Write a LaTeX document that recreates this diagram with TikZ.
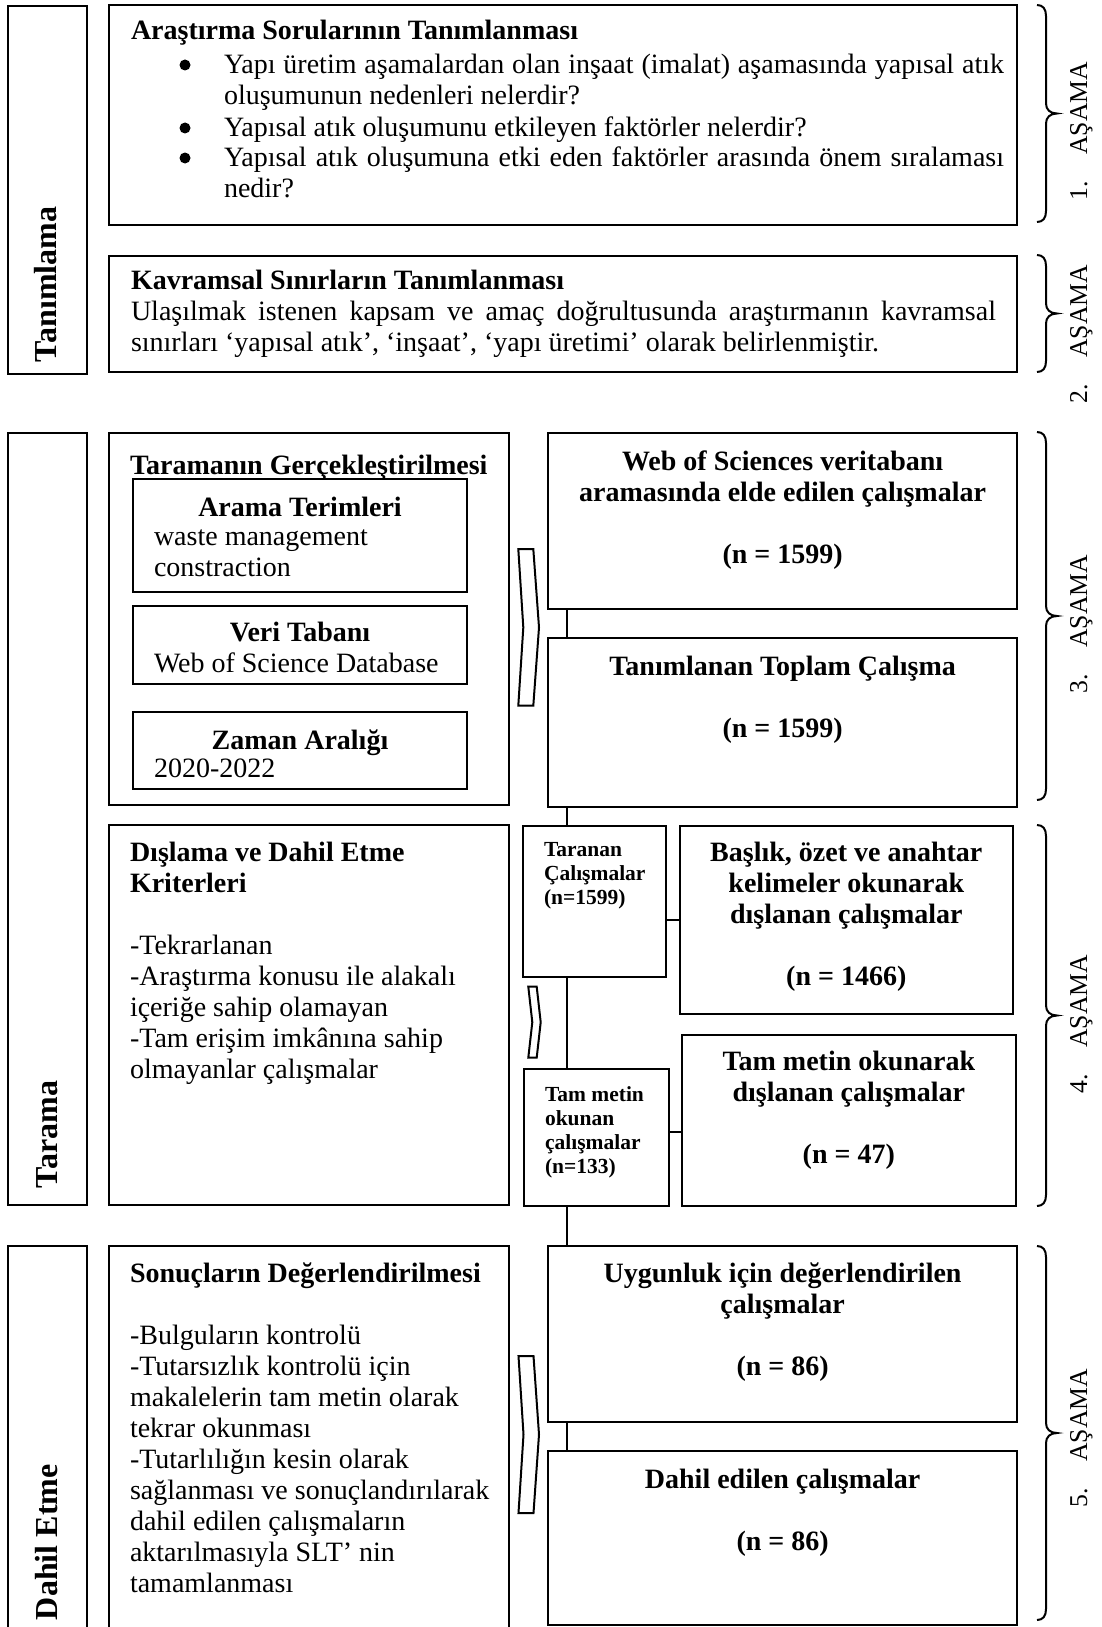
\documentclass[tikz,border=0pt]{standalone}
\usepackage{fontspec}
\setmainfont{Liberation Serif}
\newcommand\fA{\fontsize{28}{31}\selectfont}
\newcommand\fS{\fontsize{21.5}{24.3}\selectfont}
\newcommand\fL{\fontsize{32}{36}\selectfont}
\newcommand\fR{\fontsize{25.7}{30}\selectfont}
\newcommand\mkbox[5]{\node[box, minimum width={(#4)-(#2)}, minimum height={(#5)-(#3)}] (#1) at (#2,#3) {};}
\newcommand\mkbrace[3]{\draw[bracepath] (1037,#1) .. controls (1043,#1) and (1046,#1+4) .. (1046,#1+11) -- (1046,#3-10) .. controls (1046,#3-4) and (1050,#3) .. (1057,#3) .. controls (1050,#3) and (1046,#3+4) .. (1046,#3+10) -- (1046,#2-11) .. controls (1046,#2-4) and (1043,#2) .. (1037,#2);}
\begin{document}
\begin{tikzpicture}[x=1pt,y=-1pt,
  box/.style={draw, line width=2pt, inner sep=0pt, outer sep=0pt, anchor=north west},
  txt/.style={inner sep=0pt, outer sep=0pt, anchor=north west, align=left, font=\fA},
  btxt/.style={inner sep=0pt, outer sep=0pt, anchor=north, align=center, font=\fA\bfseries},
  stxt/.style={inner sep=0pt, outer sep=0pt, anchor=north west, align=left, font=\fS\bfseries},
  lab/.style={inner sep=0pt, outer sep=0pt, rotate=90, anchor=base west, font=\fL\bfseries},
  stage/.style={inner sep=0pt, outer sep=0pt, rotate=90, anchor=base west, font=\fR},
  bul/.style={circle, fill=black, inner sep=0pt, minimum size=11pt},
  con/.style={line width=2pt},
  chev/.style={draw, line width=2pt, fill=white, line join=miter},
  bracepath/.style={line width=2pt}]
\useasboundingbox (0,0) rectangle (1102,1627);

% ---- boxes
\mkbox{lab1}{8}{6}{86.6}{374}
\mkbox{lab2}{8}{433}{86.6}{1205}
\mkbox{lab3}{8}{1246}{86.6}{1645}
\mkbox{b1}{109.4}{5}{1017.4}{225}
\mkbox{b2}{109.4}{256}{1017.4}{372}
\mkbox{tg}{109.4}{433}{508.7}{805}
\mkbox{at}{133.3}{479}{466.6}{592}
\mkbox{vt}{133.3}{606}{466.6}{684}
\mkbox{za}{133.3}{712}{466.6}{789}
\mkbox{dk}{109.4}{825}{508.7}{1205}
\mkbox{sd}{109.4}{1246}{508.7}{1645}
\mkbox{web}{547.8}{433}{1017.4}{609}
\mkbox{tan}{547.8}{638}{1017.4}{807}
\mkbox{tar}{523}{826}{666}{977}
\mkbox{bas}{679.6}{826}{1013}{1014}
\mkbox{tmo}{524}{1069}{669}{1206}
\mkbox{tmr}{682}{1035}{1015.6}{1206}
\mkbox{uyg}{547.8}{1246}{1017.4}{1422}
\mkbox{dah}{547.8}{1451}{1017.4}{1625}

% ---- connectors
\coordinate (vx) at (566.5,0);
\coordinate (h2) at (0,1132);
\draw[con] (vx |- web.south) -- (vx |- tan.north);
\draw[con] (vx |- tan.south) -- (vx |- tar.north);
\draw[con] (vx |- tar.south) -- (vx |- tmo.north);
\draw[con] (vx |- tmo.south) -- (vx |- uyg.north);
\draw[con] (vx |- uyg.south) -- (vx |- dah.north);
\draw[con] (bas.west -| tar.east) -- (bas.west);
\draw[con] (tmo.east |- h2) -- (tmr.west |- h2);

% ---- chevrons
\draw[chev] (518.3,549) -- (533.3,549) -- (539,627.4) -- (533.3,705.7) -- (518.3,705.7) -- (523.3,627.4) -- cycle;
\draw[chev] (528.3,986.7) -- (536.7,986.7) -- (540.7,1022.2) -- (536.7,1057.7) -- (528.3,1057.7) -- (532.3,1022.2) -- cycle;
\draw[chev] (518.5,1356) -- (533.5,1356) -- (539,1434.5) -- (533.5,1513) -- (518.5,1513) -- (523.5,1434.5) -- cycle;

% ---- braces
\mkbrace{5}{222}{113.5}
\mkbrace{255}{372}{313.5}
\mkbrace{432}{800}{616}
\mkbrace{825}{1206}{1015.5}
\mkbrace{1246}{1620}{1433}

% ---- left labels
\node[lab] (l1) at (56,362) {Tanımlama};
\node[lab] (l2) at (57,1188) {Tarama};
\node[lab] (l3) at (57.5,1620) {Dahil Etme};

% ---- stage labels
\node[stage] (s1) at (1087,200) {1.\hspace{26pt}AŞAMA};
\node[stage] (s2) at (1087,403) {2.\hspace{26pt}AŞAMA};
\node[stage] (s3) at (1087,693) {3.\hspace{26pt}AŞAMA};
\node[stage] (s4) at (1087,1093) {4.\hspace{26pt}AŞAMA};
\node[stage] (s5) at (1087,1507) {5.\hspace{26pt}AŞAMA};

% ---- box 1
\node[txt, anchor=base west, font=\fA\bfseries] (t1) at (131,40) {Araştırma Sorularının Tanımlanması};
\node[bul] (d1) at (185,65) {};
\node[bul] (d2) at (185,128) {};
\node[bul] (d3) at (185,158) {};
\node[txt, text width=780pt, align=justify] (q1) at (224,74-21.7) {\noindent\strut Yapı üretim aşamalardan olan inşaat (imalat) aşamasında yapısal atık\linebreak oluşumunun nedenleri nelerdir?};
\node[txt, anchor=base west] (q2) at (224,136.5) {Yapısal atık oluşumunu etkileyen faktörler nelerdir?};
\node[txt, text width=780pt, align=justify] (q3) at (224,166.5-21.7) {\noindent\strut Yapısal atık oluşumuna etki eden faktörler arasında önem sıralaması\linebreak nedir?};

% ---- box 2
\node[txt, anchor=base west, font=\fA\bfseries] (t2) at (131,289) {Kavramsal Sınırların Tanımlanması};
\node[txt, text width=865pt, align=justify] (p2) at (131,320-21.7) {\noindent\strut Ulaşılmak istenen kapsam ve amaç doğrultusunda araştırmanın kavramsal\linebreak sınırları ‘yapısal atık’, ‘inşaat’, ‘yapı üretimi’ olarak belirlenmiştir.};

% ---- search
\node[txt, anchor=base west, font=\fA\bfseries] (t3) at (130,474) {Taramanın Gerçekleştirilmesi};
\node[txt, anchor=base, font=\fA\bfseries] (t4) at (300,516) {Arama Terimleri};
\node[txt] (c4) at (154,545-21.7) {\strut waste management\\constraction};
\node[txt, anchor=base, font=\fA\bfseries] (t5) at (300,641) {Veri Tabanı};
\node[txt, anchor=base west] (c5) at (154,672) {Web of Science Database};
\node[txt, anchor=base, font=\fA\bfseries] (t6) at (300,749.5) {Zaman Aralığı};
\node[txt, anchor=base west] (c6) at (154,777.5) {2020-2022};

% ---- criteria
\node[txt] (c7) at (130,861-21.7) {\strut\textbf{Dışlama ve Dahil Etme}\\\textbf{Kriterleri}\\[31pt]-Tekrarlanan\\-Araştırma konusu ile alakalı\\içeriğe sahip olamayan\\-Tam erişim imkânına sahip\\olmayanlar çalışmalar};

% ---- evaluation
\node[txt] (c8) at (130,1282-21.7) {\strut\textbf{Sonuçların Değerlendirilmesi}\\[31pt]-Bulguların kontrolü\\-Tutarsızlık kontrolü için\\makalelerin tam metin olarak\\tekrar okunması\\-Tutarlılığın kesin olarak\\sağlanması ve sonuçlandırılarak\\dahil edilen çalışmaların\\aktarılmasıyla SLT’ nin\\tamamlanması};

% ---- right column texts
\node[btxt] (c9) at (782.6,470-21.7) {\strut Web of Sciences veritabanı\\aramasında elde edilen çalışmalar\\[31pt](n = 1599)};
\node[btxt] (c10) at (782.6,675-21.7) {\strut Tanımlanan Toplam Çalışma\\[31pt](n = 1599)};
\node[btxt] (c11) at (846.3,861-21.7) {\strut Başlık, özet ve anahtar\\kelimeler okunarak\\dışlanan çalışmalar\\[31pt](n = 1466)};
\node[btxt] (c12) at (848.8,1070-21.7) {\strut Tam metin okunarak\\dışlanan çalışmalar\\[31pt](n = 47)};
\node[btxt] (c13) at (782.6,1282-21.7) {\strut Uygunluk için değerlendirilen\\çalışmalar\\[31pt](n = 86)};
\node[btxt] (c14) at (782.6,1488-21.7) {\strut Dahil edilen çalışmalar\\[31pt](n = 86)};

% ---- small boxes
\node[stxt] (c15) at (544,856-17) {\strut Taranan\\Çalışmalar\\(n=1599)};
\node[stxt] (c16) at (545,1101-17) {\strut Tam metin\\okunan\\çalışmalar\\(n=133)};
\end{tikzpicture}
\end{document}
